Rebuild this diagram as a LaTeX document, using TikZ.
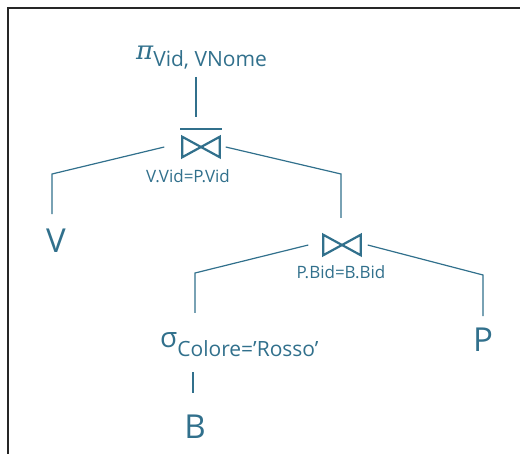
\documentclass[tikz,border=0pt]{standalone}
\usepackage{fontspec}
\setmainfont{Open Sans}
\newfontfamily\greekserif{DejaVu Serif}
\definecolor{treeblue}{RGB}{49,112,140}
\tikzset{
  edge/.style={draw=treeblue, line width=1.2pt},
  bowtie/.style={draw=treeblue, line width=2.2pt, line join=miter},
  leaf/.style={text=treeblue, font=\fontsize{33}{33}\selectfont, inner sep=0pt, anchor=base},
  oplabel/.style={text=treeblue, inner sep=0pt, anchor=base west},
  cond/.style={text=treeblue, font=\fontsize{17}{17}\selectfont, inner sep=0pt, anchor=base},
  joinbox/.style={minimum width=37pt, minimum height=20pt, inner sep=0pt},
}
\begin{document}
\begin{tikzpicture}[x=1pt, y=-1pt]
  \useasboundingbox (0,0) rectangle (520,454);
  \draw[line width=2pt, black!85] (8,454) -- (8,8) -- (520,8);

  \node[oplabel] (proj) at (136,60) {{\greekserif\itshape\fontsize{26}{26}\selectfont π}{\fontsize{21}{21}\selectfont\raisebox{-7pt}{Vid, VNome}}};

  \node[joinbox] (join1) at (201,147) {};
  \node[cond] (cond1) at (188,183) {V.Vid=P.Vid};

  \node[leaf] (V) at (56,253) {V};

  \node[joinbox] (join2) at (342,245) {};
  \node[cond] (cond2) at (341,279) {P.Bid=B.Bid};

  \node[oplabel] (sel) at (160,348) {{\fontsize{28}{28}\selectfont σ}{\fontsize{21}{21}\selectfont\raisebox{-9pt}{Colore=’Rosso’}}};
  \node[leaf] (P) at (483,352) {P};
  \node[leaf] (B) at (195,439) {B};

  \coordinate (k1) at (52,174);
  \coordinate (k2) at (341,174);
  \coordinate (k3) at (195,273);
  \coordinate (k4) at (483,275);

  % bowtie symbols
  \foreach \j in {join1,join2}
    \draw[bowtie] (\j.north west) -- (\j.south east) -- (\j.north east) -- (\j.south west) -- cycle;
  \draw[bowtie] ([xshift=-2pt,yshift=8pt]join1.north west) -- ([xshift=2pt,yshift=8pt]join1.north east);

  \draw[edge, shorten <=7pt, shorten >=20pt] ([xshift=-5pt]proj.south -| join1.north) -- ([xshift=-5pt]join1.north);
  \draw[edge, shorten >=15pt] ([xshift=-18pt]join1.west) -- (k1) -- (k1 |- V.north);
  \draw[edge, shorten >=17pt] ([xshift=6pt]join1.east) -- (k2) -- (k2 |- join2.north);
  \draw[edge, shorten >=20pt] ([xshift=-15pt]join2.west) -- (k3) -- (k3 |- sel.north);
  \draw[edge, shorten >=12pt] ([xshift=7pt]join2.east) -- (k4) -- (k4 |- P.north);
  \draw[edge, shorten <=15pt, shorten >=22pt] ([xshift=-2pt]sel.south -| B.north) -- ([xshift=-2pt]B.north);
\end{tikzpicture}
\end{document}
